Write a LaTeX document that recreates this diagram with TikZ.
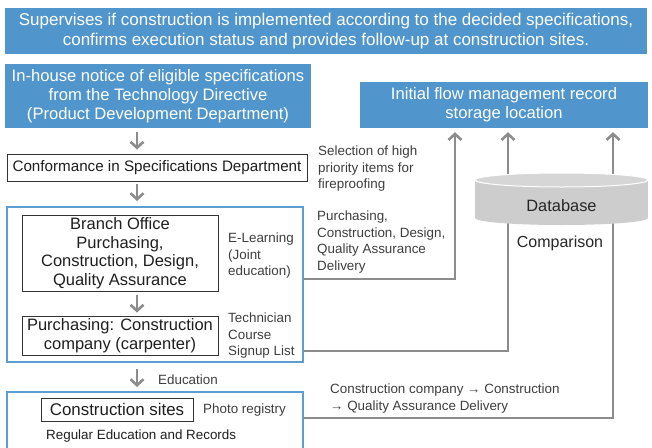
\documentclass[tikz,border=0pt]{standalone}
\usepackage{fontspec}
\setmainfont{Liberation Sans}
\usetikzlibrary{arrows.meta,positioning,calc}
\definecolor{hdrblue}{RGB}{80,150,205}
\definecolor{edgeblue}{RGB}{92,158,212}
\definecolor{flowgray}{RGB}{140,140,140}
\definecolor{labgray}{RGB}{62,62,62}
\definecolor{dbbody}{RGB}{205,205,205}
\definecolor{dbcap}{RGB}{214,214,214}
\tikzset{
  hdrbox/.style   = {fill=hdrblue, text=white, align=center, inner sep=0pt},
  unitbox/.style  = {draw=edgeblue, line width=2pt, inner sep=0pt},
  deptbox/.style  = {draw=black!80, fill=white, line width=0.9pt, align=center,
                     inner sep=0pt, text=black!88},
  sidelab/.style  = {align=left, anchor=north west, inner sep=0pt, text=labgray,
                     font=\fontsize{13.4}{16.5}\selectfont},
  flowdown/.style = {-{Straight Barb[length=6pt,width=13pt]}, line width=2.6pt, flowgray},
  flowup/.style   = {-{Straight Barb[length=6pt,width=13pt]}, line width=2.6pt, flowgray,
                     shorten >=4pt},
}
\begin{document}
\begin{tikzpicture}[x=1pt, y=-1pt]
  \useasboundingbox (0,0) rectangle (652,447);
  \coordinate (axis) at (137,0);
  \coordinate (k1) at (455,279);
  \coordinate (k2) at (508,351);
  \coordinate (k3) at (613,418);

  \node[hdrbox, minimum width=642pt, minimum height=46pt,
        font=\fontsize{17}{19.5}\selectfont] (banner) at (326,31)
        {Supervises if construction is implemented according to the decided specifications,\\
         confirms execution status and provides follow-up at construction sites.};
  \node[hdrbox, minimum width=306pt, minimum height=64pt,
        font=\fontsize{16.6}{19}\selectfont] (notice) at (158,96)
        {In-house notice of eligible specifications\\from the Technology Directive\\(Product Development Department)};
  \node[hdrbox, minimum width=288pt, minimum height=46pt,
        font=\fontsize{16.6}{19}\selectfont] (storage) at (504,105)
        {Initial flow management record\\storage location};
  \node[deptbox, minimum width=300pt, minimum height=27pt,
        font=\fontsize{15.2}{18}\selectfont] (conform) at (157,167.5)
        {Conformance in Specifications Department};
  \node[unitbox, minimum width=296pt, minimum height=155pt] (training) at (155,284.5) {};
  \node[deptbox, minimum width=196pt, minimum height=76pt,
        font=\fontsize{16.5}{18.5}\selectfont] (branch) at (120,253)
        {Branch Office\\Purchasing,\\Construction, Design,\\Quality Assurance};
  \node[deptbox, minimum width=196pt, minimum height=39pt,
        font=\fontsize{16.5}{18.5}\selectfont] (carpenter) at (120,335.5)
        {Purchasing: Construction\\company (carpenter)};
  \node[unitbox, minimum width=296pt, minimum height=62pt] (field) at (155,423) {};
  \node[deptbox, minimum width=152pt, minimum height=23pt,
        font=\fontsize{16.9}{19}\selectfont] (sites) at (117,409.5) {Construction sites};

  \node[sidelab] (select) at (318,146) {Selection of high\\priority items for\\fireproofing};
  \node[sidelab] (deliver) at (317,211) {Purchasing,\\Construction, Design,\\Quality Assurance\\Delivery};
  \node[sidelab] (elearn) at (228,233) {E-Learning\\(Joint\\education)};
  \node[sidelab] (signup) at (228,313) {Technician\\Course\\Signup List};
  \node[sidelab, anchor=west] (photo) at (203,410) {Photo registry};
  \node[sidelab, anchor=west] (edu) at (158,380) {Education};
  \node[sidelab] (route) at (330,384) {Construction company → Construction\\→ Quality Assurance Delivery};
  \node[sidelab, anchor=west, text=black!88] (records) at (46,436) {Regular Education and Records};

  \draw[flowdown, shorten <=4pt, shorten >=4pt] (notice.south -| axis) -- (conform.north -| axis);
  \draw[flowdown, shorten <=3pt, shorten >=5pt] (conform.south -| axis) -- (training.north -| axis);
  \draw[flowdown, shorten <=4pt, shorten >=3pt] (branch.south -| axis) -- (carpenter.north -| axis);
  \draw[flowdown, shorten <=6pt, shorten >=4pt] (training.south -| axis) -- (field.north -| axis);

  \draw[flowup] (training.east |- k1) -- (k1) -- (k1 |- storage.south);
  \draw[flowup] (training.east |- k2) -- (k2) -- (k2 |- storage.south);
  \draw[flowup] (field.east |- k3) -- (k3) -- (k3 |- storage.south);

  \fill[dbbody] (475,180) rectangle (648,218);
  \fill[dbbody] (561.5,218) ellipse[x radius=86.5, y radius=7];
  \filldraw[fill=dbcap, draw=white, line width=1pt] (561.5,180) ellipse[x radius=86.5, y radius=7];
  \node[font=\fontsize{16.4}{19}\selectfont, text=black!85] (db) at (561.5,206) {Database};
  \node[font=\fontsize{16}{19}\selectfont, text=black!85] (compare) at (560,243) {Comparison};
\end{tikzpicture}
\end{document}
